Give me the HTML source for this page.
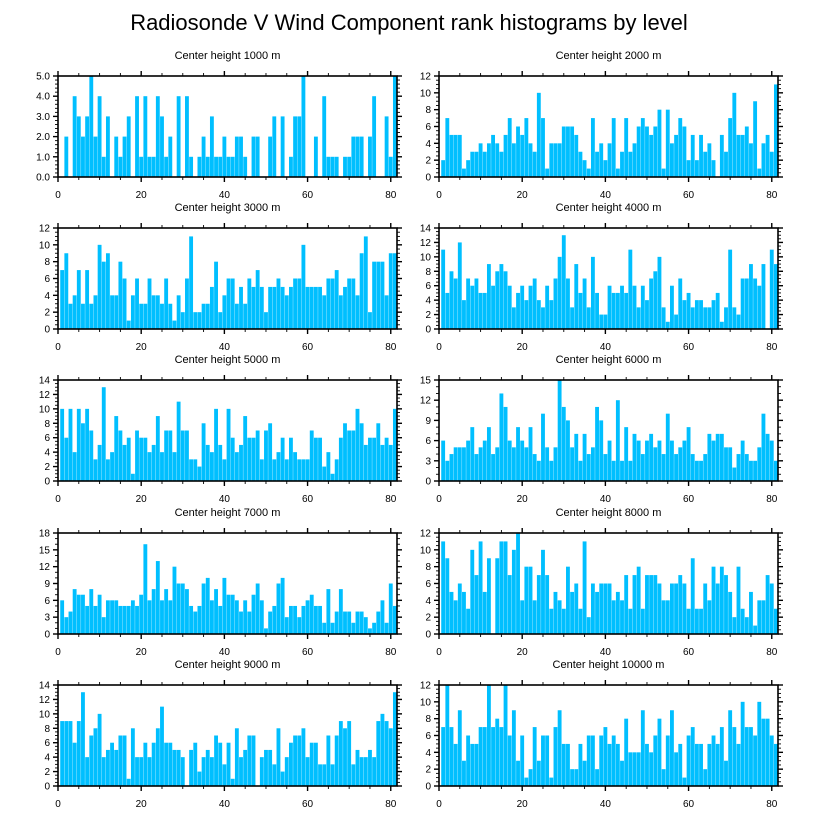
<!DOCTYPE html>
<html>
<head>
<meta charset="utf-8">
<style>
  html, body { margin: 0; padding: 0; background: #ffffff; }
  body { width: 818px; height: 824px; overflow: hidden; }
  svg { display: block; font-family: "Liberation Sans", sans-serif; }
</style>
</head>
<body>
<svg id="chart" width="818" height="824" viewBox="0 0 818 824" xmlns="http://www.w3.org/2000/svg">
  <rect x="0" y="0" width="818" height="824" fill="#ffffff"/>
  <text x="409" y="30" font-size="22" text-anchor="middle" fill="#000">Radiosonde V Wind Component rank histograms by level</text>
</svg>
<script>
const ranks = [1,2,3,4,5,6,7,8,9,10,11,12,13,14,15,16,17,18,19,20,21,22,23,24,25,26,27,28,29,30,31,32,33,34,35,36,37,38,39,40,41,42,43,44,45,46,47,48,49,50,51,52,53,54,55,56,57,58,59,60,61,62,63,64,65,66,67,68,69,70,71,72,73,74,75,76,77,78,79,80,81];

const v1000 = [0,2,0,4,3,2,3,5,2,4, 1,3,0,2,1,2,3,0,4,1, 4,1,1,4,3,1,2,0,4,0, 4,1,0,1,2,1,3,1,1,2, 1,1,2,2,1,0,2,2,0,0, 2,3,0,3,0,1,3,3,5,0, 0,2,0,4,1,1,1,0,1,1, 2,2,2,0,2,4,0,0,3,1, 5];
const v2000 = [2,7,5,5,5,1,2,3,3,4, 3,4,5,4,3,5,7,4,6,5, 7,4,3,10,7,1,4,4,4,6, 6,6,5,3,2,1,7,3,4,2, 4,7,1,3,7,3,4,6,7,6, 5,6,8,1,8,4,5,7,6,2, 5,2,5,3,4,2,0,5,3,7, 10,5,5,6,4,9,1,4,5,3, 11];
const v3000 = [7,9,3,4,7,3,7,3,4,10, 8,9,4,4,8,6,1,4,6,3, 3,6,4,4,3,6,3,1,4,2, 6,11,2,2,3,3,5,8,2,4, 6,6,3,5,3,6,5,7,5,2, 5,5,6,5,4,5,6,6,10,5, 5,5,5,4,6,6,7,4,5,6, 6,4,9,11,2,8,8,8,4,9, 9];
const v4000 = [11,5,8,7,12,4,7,6,7,5, 5,9,6,8,9,8,6,3,5,6, 4,6,7,4,3,6,4,7,10,13, 7,3,9,5,7,3,10,5,2,2, 6,5,5,6,5,11,6,3,6,4, 7,8,10,3,1,6,2,7,4,5, 3,4,4,3,3,4,5,1,3,11, 3,2,7,7,9,7,6,9,0,11, 9];
const v5000 = [10,6,10,4,10,8,10,7,3,5, 13,3,4,9,7,5,6,1,7,6, 6,4,5,9,4,7,7,4,11,7, 7,3,3,2,8,5,4,10,5,3, 10,6,4,5,9,6,6,7,3,7, 8,3,4,6,3,6,4,3,3,3, 7,6,6,2,4,1,3,6,8,7, 7,10,8,5,6,6,8,5,6,5, 10];
const v6000 = [6,3,4,5,5,5,6,8,4,5, 6,8,4,5,13,11,6,5,8,6, 5,8,4,3,10,5,3,5,15,11, 9,5,7,3,7,4,5,11,9,4, 6,3,12,3,8,3,7,6,4,6, 7,5,6,4,10,6,4,5,6,8, 4,3,3,4,7,6,7,7,5,5, 2,4,6,4,3,3,5,10,7,6, 3];
const v7000 = [6,3,4,8,7,7,5,8,5,7, 3,6,6,6,5,5,5,6,5,7, 16,6,8,13,6,8,6,12,9,9, 8,5,4,5,9,10,6,8,5,10, 7,7,6,4,6,4,7,9,6,1, 4,5,9,10,3,5,5,3,5,6, 7,5,5,2,8,2,4,8,4,4, 2,4,4,3,1,2,4,6,2,9, 5];
const v8000 = [11,9,5,4,6,5,3,10,7,11, 5,9,0,9,11,11,7,10,12,4, 8,8,4,7,10,7,3,5,4,3, 8,5,6,3,11,2,6,5,6,6, 6,4,5,4,7,3,7,8,3,7, 7,7,6,4,4,6,6,7,6,3, 9,3,3,6,4,8,6,8,7,5, 2,8,3,2,5,1,4,4,7,6, 3];
const v9000 = [9,9,9,6,9,13,4,7,8,10, 4,5,6,5,7,7,1,8,4,4, 6,4,6,8,11,6,6,5,5,4, 0,5,6,2,4,5,4,7,6,3, 6,1,8,4,5,7,7,0,4,5, 5,3,8,2,4,6,7,7,8,4, 6,6,3,3,7,3,7,9,8,9, 3,5,4,4,5,4,9,10,9,8, 13];
const v10000 = [7,12,7,5,9,3,6,5,5,7, 7,12,7,8,7,12,6,9,3,6, 1,2,7,3,6,6,1,7,9,5, 5,2,2,5,3,6,6,2,6,7, 5,6,5,3,8,4,4,4,9,5, 4,6,8,2,6,9,4,5,1,6, 7,5,5,2,5,6,5,7,3,9, 7,5,10,7,7,6,10,8,8,6, 5];

const panelTitles = ["Center height 1000 m","Center height 2000 m","Center height 3000 m","Center height 4000 m","Center height 5000 m","Center height 6000 m","Center height 7000 m","Center height 8000 m","Center height 9000 m","Center height 10000 m"];
const yMaxes = [5,12,12,14,14,15,18,12,14,12];
const yMajorSteps = [1,2,2,2,2,3,3,2,2,2];
const yMinorSteps = [0.2,0.5,0.5,0.5,0.5,1,1,0.5,0.5,0.5];
const xTickLabels = [0,20,40,60,80];
const seriesList = [v1000,v2000,v3000,v4000,v5000,v6000,v7000,v8000,v9000,v10000];

const NS = "http://www.w3.org/2000/svg";
const svg = document.getElementById('chart');
const X_MAX = 81.5;
const PW = 339, PH = 101;
const colX = [58, 439];
const rowY = [76, 228, 380, 533, 685];

function mk(tag, attrs, parent) {
  const e = document.createElementNS(NS, tag);
  for (const k in attrs) e.setAttribute(k, attrs[k]);
  parent.appendChild(e);
  return e;
}

seriesList.forEach(function(vals, p) {
  const col = p % 2, row = Math.floor(p / 2);
  const x0 = colX[col], y0 = rowY[row];
  const yMax = yMaxes[p];
  const xs = function(v) { return x0 + v / X_MAX * PW; };
  const ys = function(v) { return y0 + PH - v / yMax * PH; };

  const g = mk('g', {}, svg);
  
  

  const t = mk('text', {x: x0 + PW / 2, y: y0 - 17, 'font-size': 11, 'text-anchor': 'middle', fill: '#000'}, g);
  t.textContent = panelTitles[p];
  
  

  const bars = mk('g', {}, g);
  
  
  vals.forEach(function(v, i) {
    if (v <= 0) return;
    const r = ranks[i];
    const bx = xs(r - 0.5), bw = xs(r + 0.5) - xs(r - 0.5);
    const b = mk('rect', {x: bx + 0.15, y: ys(v), width: bw - 0.3, height: ys(0) - ys(v), fill: '#00BFFF'}, bars);
    
    
  });

  for (let v = 0; v <= 80 + 1e-9; v += 5) {
    const major = (v % 20 === 0);
    const L = major ? 5 : 3;
    const x = xs(v);
    mk('line', {x1: x, x2: x, y1: y0 + PH, y2: y0 + PH + L, stroke: '#000', 'stroke-width': major ? 1.4 : 0.9}, g);
    mk('line', {x1: x, x2: x, y1: y0, y2: y0 - L, stroke: '#000', 'stroke-width': major ? 1.4 : 0.9}, g);
  }
  xTickLabels.forEach(function(v) {
    const tl = mk('text', {x: xs(v), y: y0 + PH + 21, 'font-size': 10, 'text-anchor': 'middle', fill: '#000'}, g);
    tl.textContent = v;
    
    
  });

  const minor = yMinorSteps[p], majorStep = yMajorSteps[p];
  const nMinor = Math.round(yMax / minor);
  for (let k = 0; k <= nMinor; k++) {
    const v = k * minor;
    const isMajor = Math.abs(v / majorStep - Math.round(v / majorStep)) < 1e-6;
    const L = isMajor ? 5 : 3;
    const y = ys(v);
    mk('line', {x1: x0, x2: x0 - L, y1: y, y2: y, stroke: '#000', 'stroke-width': isMajor ? 1.4 : 0.9}, g);
    mk('line', {x1: x0 + PW, x2: x0 + PW + L, y1: y, y2: y, stroke: '#000', 'stroke-width': isMajor ? 1.4 : 0.9}, g);
    if (isMajor) {
      const yl = mk('text', {x: x0 - 8, y: y + 3.5, 'font-size': 10, 'text-anchor': 'end', fill: '#000'}, g);
      yl.textContent = (yMax === 5) ? v.toFixed(1) : String(Math.round(v));
      
      
    }
  }

  const fr = mk('rect', {x: x0, y: y0, width: PW, height: PH, fill: 'none', stroke: '#000', 'stroke-width': 1.6}, g);
  
  
});
</script>
</body>
</html>
